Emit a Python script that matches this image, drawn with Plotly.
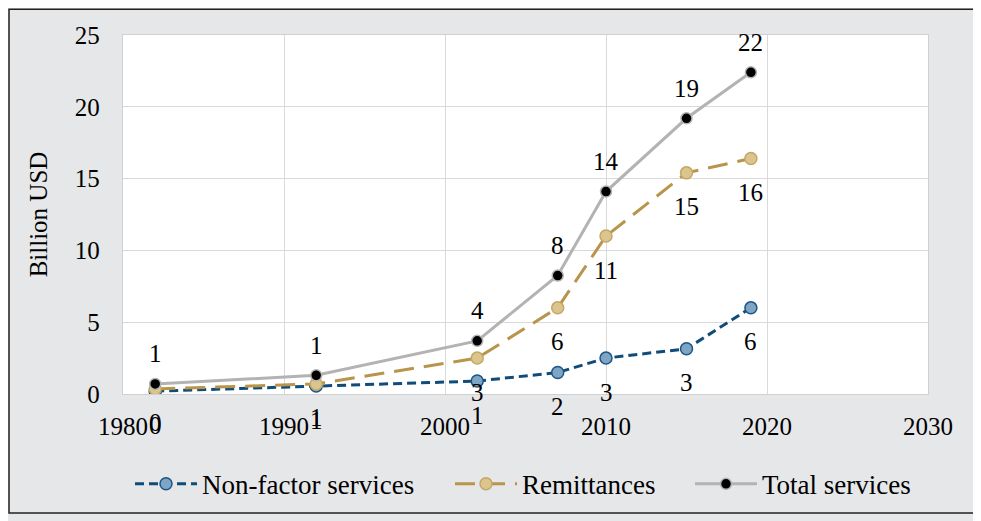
import plotly.graph_objects as go

years = [1982, 1992, 2002, 2007, 2010, 2015, 2019]
non_factor = [0.2, 0.55, 0.9, 1.5, 2.5, 3.15, 6.0]
remittances = [0.35, 0.7, 2.5, 6.0, 11.0, 15.4, 16.4]
total = [0.7, 1.3, 3.7, 8.25, 14.1, 19.2, 22.4]

FONT = "Liberation Serif"

# page has an 8px body margin, so the figure is placed at (8, 8)
W, H = 973, 513
L, T, R, B = 115, 27, 973 - 920, 513 - 389
PW, PH = W - L - R, H - T - B

fig = go.Figure()
fig.add_trace(go.Scatter(x=years, y=non_factor, name="Non-factor services", mode="lines+markers",
                         line=dict(color="#0f4c7a", width=3, dash="9px,5px"),
                         marker=dict(size=12, color="#7fa5c4", line=dict(color="#1d5585", width=1.5)),
                         legend="legend"))
fig.add_trace(go.Scatter(x=years, y=remittances, name="Remittances", mode="lines+markers",
                         line=dict(color="#b8954b", width=3, dash="20px,10px"),
                         marker=dict(size=12, color="#dcc48f", line=dict(color="#c4a763", width=1.5)),
                         legend="legend2"))
fig.add_trace(go.Scatter(x=years, y=total, name="Total services", mode="lines+markers",
                         line=dict(color="#b3b3b3", width=3),
                         marker=dict(size=11, color="#000000", line=dict(color="#b3b3b3", width=1.5)),
                         legend="legend3"))

# data labels: total above, the other two below
for ys, shift in [(total, 30), (remittances, -34), (non_factor, -34)]:
    for x, v in zip(years, ys):
        fig.add_annotation(x=x, y=v, text=str(int(v + 0.5)), showarrow=False, yshift=shift,
                           font=dict(family=FONT, size=25, color="#000000"))

# outer frame
fig.add_shape(type="rect", xref="paper", yref="paper",
              x0=(1 - L) / PW, x1=(W - 1 - L) / PW, y0=-(B - 4) / PH, y1=(PH + T - 1) / PH,
              line=dict(color="#222222", width=1.5), layer="below")


def leg(x_px):
    return dict(orientation="h", x=(x_px - L) / PW, xanchor="left", y=-(488 - 8 - T - PH) / PH,
                yanchor="middle", font=dict(family=FONT, size=27), itemwidth=62,
                bgcolor="rgba(0,0,0,0)")


fig.update_layout(
    width=W, height=H,
    margin=dict(l=L, r=R, t=T, b=B),
    paper_bgcolor="#e6e7e9", plot_bgcolor="#ffffff",
    font=dict(family=FONT, size=25, color="#000000"),
    showlegend=True,
    legend=leg(122), legend2=leg(442), legend3=leg(682),
    xaxis=dict(range=[1980, 2030], dtick=10, tick0=1980, showgrid=True, gridcolor="#d9d9d9", gridwidth=1.3,
               zeroline=False, showline=True, linecolor="#d0d0d0", linewidth=1.3, mirror=True,
               ticks="", ticklabelstandoff=10),
    yaxis=dict(range=[0, 25], dtick=5, showgrid=True, gridcolor="#d9d9d9", gridwidth=1.3,
               zeroline=False, showline=True, linecolor="#d0d0d0", linewidth=1.3, mirror=True,
               ticks="", ticklabelstandoff=17,
               title=dict(text="Billion USD", font=dict(size=25), standoff=20)),
)

fig.write_html("out.html")
